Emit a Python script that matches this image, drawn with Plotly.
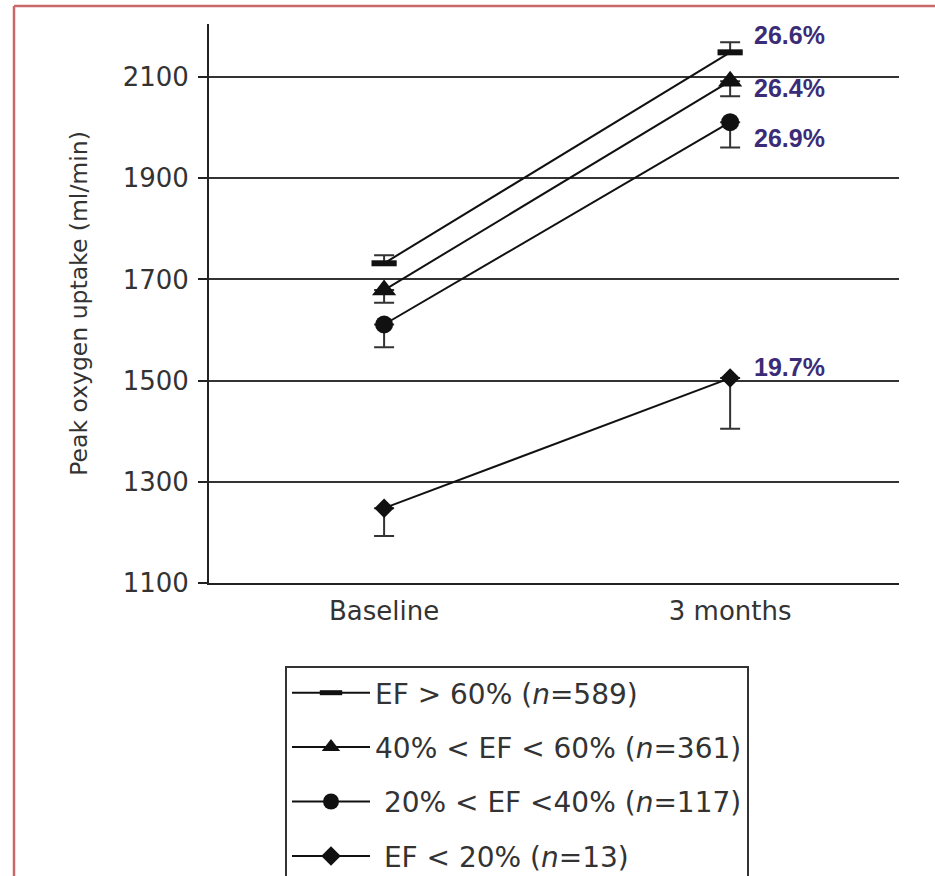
import plotly.graph_objects as go

# ---- data ----
categories = ["Baseline", "3 months"]
series_names = [
    "EF &gt; 60% (<i>n</i>=589)",
    "40% &lt; EF &lt; 60% (<i>n</i>=361)",
    " 20% &lt; EF &lt;40% (<i>n</i>=117)",
    " EF &lt; 20% (<i>n</i>=13)",
]
ef_gt60 = [1732, 2149]
ef_40_60 = [1679, 2092]
ef_20_40 = [1611, 2011]
ef_lt20 = [1248, 1505]
err_plus = [[16, 20], [0, 0], [0, 0], [0, 0]]
err_minus = [[0, 0], [25, 30], [45, 50], [55, 100]]
pct_labels = ["26.6%", "26.4%", "26.9%", "19.7%"]
y_ticks = [1100, 1300, 1500, 1700, 1900, 2100]

series_values = [ef_gt60, ef_40_60, ef_20_40, ef_lt20]

# ---- styles ----
symbols = ["line-ew", "triangle-up", "circle", "diamond"]
sizes = [18, 21, 18, 15]
label_yshift = [17, -7, -16, 11]
W, H = 935, 876
ML, MR, MT, MB = 209, 36, 24, 293
pw, ph = W - ML - MR, H - MT - MB

fig = go.Figure()
for i, (name, vals) in enumerate(zip(series_names, series_values)):
    fig.add_trace(go.Scatter(
        x=categories, y=vals, name=name, mode="lines+markers",
        legendgroup=f"g{i}",
        line=dict(color="#111111", width=2),
        marker=dict(symbol=symbols[i], size=sizes[i], color="#111111",
                    line=dict(color="#111111", width=6 if i == 0 else 0)),
        error_y=dict(type="data", symmetric=False, array=err_plus[i],
                     arrayminus=err_minus[i], color="#333333",
                     thickness=2, width=10),
        cliponaxis=False,
    ))
    fig.add_annotation(
        x=categories[1], y=vals[1], text=f"<b>{pct_labels[i]}</b>",
        xanchor="left", yanchor="middle", xshift=22, yshift=label_yshift[i],
        showarrow=False,
        font=dict(family="Liberation Sans, Arial", size=25, color="#3b2c78"),
    )

def px_x(p):
    return (p - ML) / pw

def px_y(p):
    return (H - MB - p) / ph

red = "#c86a6a"
fig.add_shape(type="line", xref="paper", yref="paper",
              x0=px_x(14), x1=px_x(14), y0=px_y(900), y1=px_y(6),
              line=dict(color=red, width=2.5))
fig.add_shape(type="line", xref="paper", yref="paper",
              x0=px_x(14), x1=px_x(960), y0=px_y(6), y1=px_y(6),
              line=dict(color=red, width=2.5))

tick_font = dict(family="DejaVu Sans", size=26, color="#333333")
fig.update_layout(
    width=W, height=H,
    margin=dict(l=ML, r=MR, t=MT, b=MB, autoexpand=False),
    paper_bgcolor="white", plot_bgcolor="white",
    showlegend=True,
    legend=dict(
        x=px_x(285), y=px_y(666), xanchor="left", yanchor="top",
        bordercolor="#333333", borderwidth=2, bgcolor="white",
        font=dict(family="DejaVu Sans", size=28, color="#333333"),
        traceorder="grouped", tracegroupgap=15, itemwidth=78,
    ),
    xaxis=dict(
        type="category", range=[-0.506, 1.488],
        showline=True, linecolor="#222222", linewidth=2,
        showgrid=False, zeroline=False, ticks="",
        tickfont=tick_font, ticklabelstandoff=4,
    ),
    yaxis=dict(
        range=[1100, 2205], tickvals=y_ticks,
        showline=True, linecolor="#222222", linewidth=2,
        showgrid=True, gridcolor="#333333", gridwidth=2,
        zeroline=False, ticks="outside", ticklen=9, tickwidth=2,
        tickcolor="#222222", tickfont=tick_font, ticklabelstandoff=4,
        title=dict(text="Peak oxygen uptake (ml/min)",
                   font=dict(family="DejaVu Sans", size=23.5, color="#333333"),
                   standoff=28),
    ),
)

fig.write_html("out.html")
